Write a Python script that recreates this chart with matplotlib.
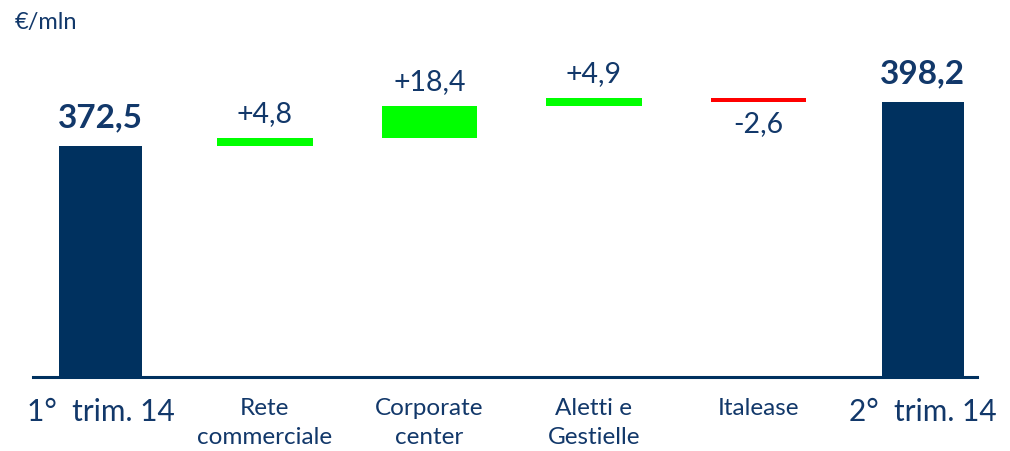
import numpy as np
import matplotlib
matplotlib.use("Agg")
import matplotlib.pyplot as plt

plt.rcParams["font.family"] = ["Lato", "DejaVu Sans"]

# quarterly totals and the contribution of each business line (EUR mln)
start_label = "1°  trim. 14"
end_label = "2°  trim. 14"
start_value = 372.5
end_value = 398.2
segments = ["Rete\ncommerciale", "Corporate\ncenter", "Aletti e\nGestielle", "Italease"]
deltas = [4.8, 18.4, 4.9, -2.6]

NAVY = "#00315F"
TEXT = "#12386A"
UP = "#00FF00"
DOWN = "#FF0000"


def fmt(v, sign=False):
    s = f"{v:+.1f}" if sign else f"{v:.1f}"
    return s.replace(".", ",")


fig = plt.figure(figsize=(10.10, 4.51), dpi=100)
ax = fig.add_axes([33 / 1010, 74 / 451, 944 / 1010, 337 / 451])

x = np.arange(len(segments) + 2)
labels = [start_label] + segments + [end_label]

# opening and closing totals
ax.bar([x[0], x[-1]], [start_value, end_value], width=0.5, color=NAVY, zorder=2)
for xi, v in [(x[0], start_value), (x[-1], end_value)]:
    ax.annotate(fmt(v), (xi, v), xytext=(0, 10), textcoords="offset points",
                ha="center", va="bottom", fontsize=24, fontweight="bold", color=TEXT)

# floating steps
level = start_value
for xi, d in zip(x[1:-1], deltas):
    ax.bar(xi, d, bottom=level, width=0.58, color=UP if d > 0 else DOWN, zorder=2)
    if d > 0:
        ax.annotate(fmt(d, True), (xi, level + d), xytext=(0, 8), textcoords="offset points",
                    ha="center", va="bottom", fontsize=20.5, color=TEXT)
    else:
        ax.annotate(fmt(d, True), (xi, level + d), xytext=(0, -6), textcoords="offset points",
                    ha="center", va="top", fontsize=20.5, color=TEXT)
    level += d

ax.set_xlim(-0.41, 5.33)
ax.set_ylim(237.6, 434.4)

ax.set_xticks(x)
ax.set_xticklabels(labels, color=TEXT)
for i, t in enumerate(ax.get_xticklabels()):
    t.set_fontsize(21.5 if i in (0, len(labels) - 1) else 17.5)
    t.set_verticalalignment("top")
    t.set_linespacing(1.5)
ax.tick_params(axis="x", length=0, pad=15)
ax.set_yticks([])

for s in ("top", "right", "left"):
    ax.spines[s].set_visible(False)
ax.spines["bottom"].set_color(NAVY)
ax.spines["bottom"].set_linewidth(2.2)

fig.text(15 / 1010, 1 - 22 / 451, "€/mln", fontsize=17, color=TEXT, ha="left", va="center")

fig.savefig("out.png", dpi=100)
